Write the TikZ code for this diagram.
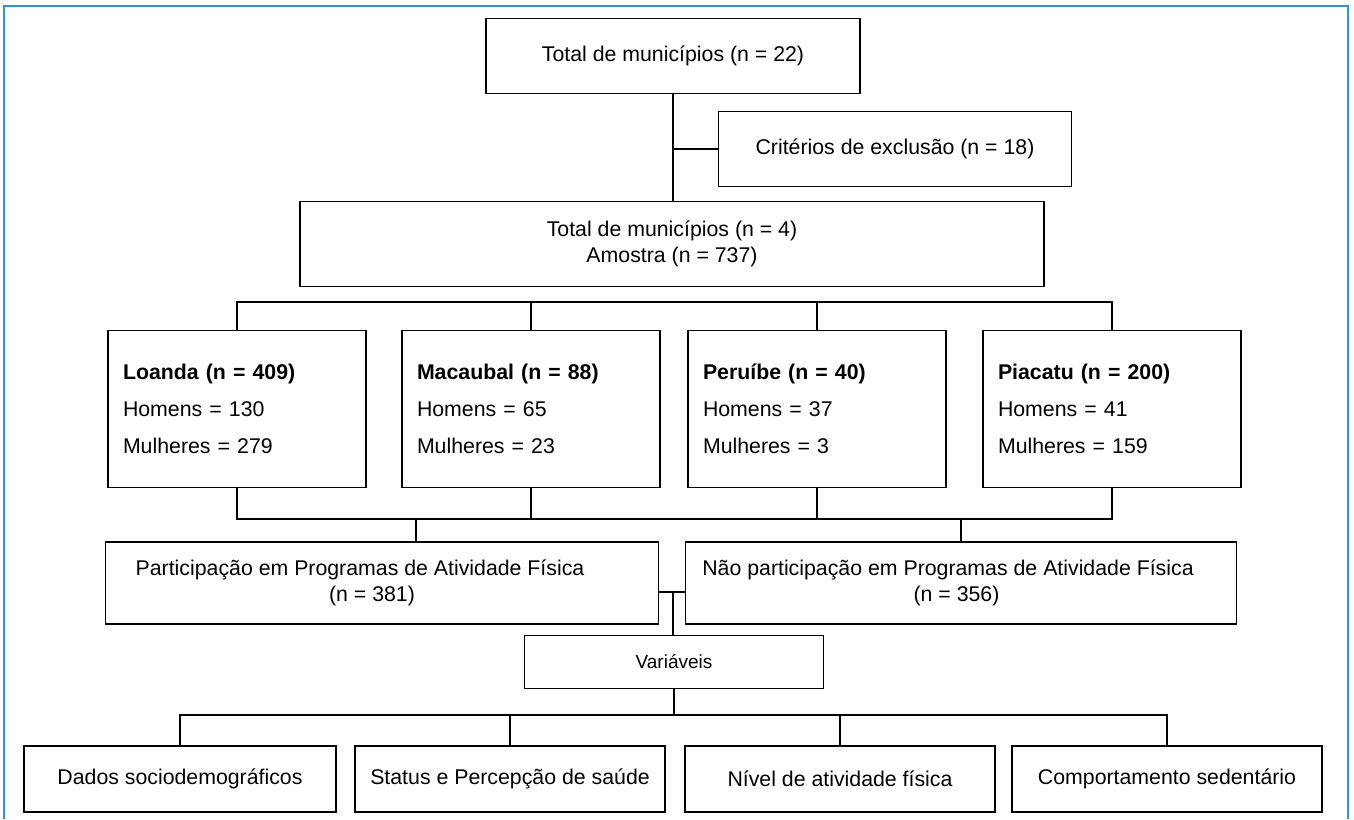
\documentclass[tikz,border=0pt]{standalone}
\usepackage{fontspec}
\setmainfont{Liberation Sans}
\usetikzlibrary{calc}
\definecolor{framecol}{RGB}{46,150,205}
\tikzset{>=latex}
\tikzset{box/.style={draw,line width=1.6pt,minimum height=75pt,align=center,inner sep=0pt}}
\tikzset{munibox/.style={draw,line width=1.6pt,text width=228pt,inner xsep=15pt,minimum height=157pt,align=left,font=\fontsize{21.3}{37}\selectfont}}
\tikzset{link/.style={line width=1.6pt}}

\begin{document}
\begin{tikzpicture}[x=1pt,y=-1pt,font=\fontsize{21.3}{26}\selectfont]
  \useasboundingbox (0,0) rectangle (1354,819);

  % Frame
  \draw[framecol,line width=2pt] (4,819) -- (4,6) -- (1348,6) -- (1348,819);

  % Selection
  \node[box,minimum width=374pt] (tot22) at (673,56) {Total de municípios (n = 22)};
  \node[box,minimum width=353pt] (excl) at (895,149) {Critérios de exclusão (n = 18)};
  \node[box,minimum width=744pt,minimum height=85pt] (tot4) at (672,244) {Total de municípios (n = 4)\\Amostra (n = 737)};
  \draw[link] (tot22) -- (tot22 |- tot4.north);
  \draw[link] (tot22 |- excl) -- (excl);

  % Municipalities
  \node[munibox] (loanda) at (237,409) {\textbf{Loanda (n = 409)}\\Homens = 130\\Mulheres = 279};
  \node[munibox] (macaubal) at (531,409) {\textbf{Macaubal (n = 88)}\\Homens = 65\\Mulheres = 23};
  \node[munibox] (peruibe) at (817,409) {\textbf{Peruíbe (n = 40)}\\Homens = 37\\Mulheres = 3};
  \node[munibox] (piacatu) at (1112,409) {\textbf{Piacatu (n = 200)}\\Homens = 41\\Mulheres = 159};
  \coordinate (bustop) at (0,302);
  \draw[link] (loanda.north) -- (loanda.north |- bustop) -| (piacatu.north);
  \draw[link] (macaubal.north) -- (macaubal.north |- bustop);
  \draw[link] (peruibe.north) -- (peruibe.north |- bustop);

  % Groups
  \node[box,minimum width=553pt,minimum height=82pt] (part) at (382,583) {Participação em Programas de Atividade Física\hspace*{44pt}\\(n = 381)\hspace*{20pt}};
  \node[box,minimum width=551pt,minimum height=82pt] (nopart) at (961,583) {Não participação em Programas de Atividade Física\hspace*{26pt}\\(n = 356)\hspace*{9pt}};
  \coordinate (busmid) at (0,519);
  \coordinate (tkpart) at (416,519);
  \draw[link] (loanda.south) -- (loanda.south |- busmid) -| (piacatu.south);
  \draw[link] (macaubal.south) -- (macaubal.south |- busmid);
  \draw[link] (peruibe.south) -- (peruibe.south |- busmid);
  \draw[link] (tkpart) -- (tkpart |- part.north);
  \draw[link] (nopart.north |- busmid) -- (nopart.north);

  % Variables
  \node[box,minimum width=299pt,minimum height=53pt,font=\fontsize{19}{23}\selectfont] (var) at (674,662) {Variáveis};
  \coordinate (split) at (673,592);
  \draw[link] (part.east |- split) -- (nopart.west |- split);
  \draw[link] (split) -- (split |- var.north);

  % Outcomes
  \node[box,minimum width=312pt,minimum height=66pt] (dados) at (180,779) {Dados sociodemográficos};
  \node[box,minimum width=310pt,minimum height=66pt] (status) at (510,779) {Status e Percepção de saúde};
  \node[box,minimum width=310pt,minimum height=66pt] (nivel) at (840,779) {Nível de atividade física};
  \node[box,minimum width=310pt,minimum height=66pt] (comport) at (1167,779) {Comportamento sedentário};
  \coordinate (busbot) at (0,715);
  \draw[link] (var) -- (var |- busbot);
  \draw[link] (dados.north) -- (dados.north |- busbot) -| (comport.north);
  \draw[link] (status.north) -- (status.north |- busbot);
  \draw[link] (nivel.north) -- (nivel.north |- busbot);
\end{tikzpicture}
\end{document}
